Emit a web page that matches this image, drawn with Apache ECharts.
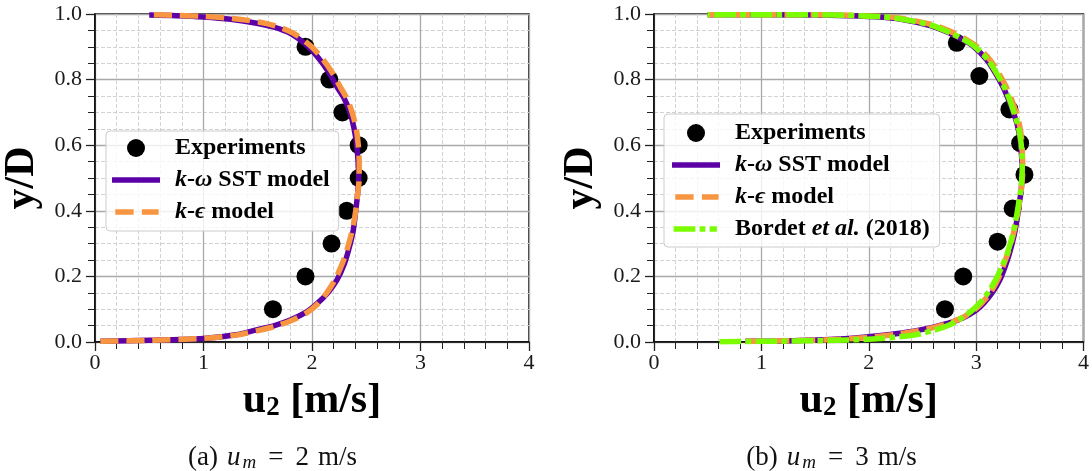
<!DOCTYPE html>
<html><head><meta charset="utf-8">
<script src="https://cdn.jsdelivr.net/npm/echarts@6/dist/echarts.min.js"></script>
<style>html,body{margin:0;padding:0;background:#fff}#c{width:1092px;height:471px}</style>
</head><body><div id="c"></div>
<script>
// ---------- data ----------
const xTickValues = [0, 1, 2, 3, 4];
const yTickLabels = ['0.0', '0.2', '0.4', '0.6', '0.8', '1.0'];
const seriesNames = ['Experiments', 'k-ω SST model', 'k-ϵ model', 'Bordet et al. (2018)'];
const captions = ['(a)', '(b)'];
const captionSpeeds = ['2', '3'];

// panel (a): u_m = 2 m/s
const expA = [[1.64,0.1],[1.94,0.2],[2.18,0.3],[2.32,0.4],[2.43,0.5],[2.43,0.6],[2.28,0.7],[2.16,0.8],[1.94,0.9]];
const sstA = [[0.05,0.002],[0.5,0.005],[1.0,0.011],[1.3,0.022],[1.49,0.037],[1.66,0.051],[1.80,0.067],[1.95,0.092],[2.05,0.118],[2.15,0.152],[2.23,0.189],[2.30,0.24],[2.345,0.29],[2.38,0.34],[2.40,0.392],[2.42,0.45],[2.43,0.50],[2.425,0.55],[2.41,0.606],[2.385,0.655],[2.35,0.70],[2.30,0.74],[2.23,0.778],[2.15,0.825],[2.05,0.87],[1.95,0.905],[1.80,0.941],[1.65,0.96],[1.49,0.972],[1.25,0.984],[1.0,0.991],[0.75,0.995],[0.5,0.997]];
const keA = [[0.05,0.002],[0.5,0.005],[1.0,0.011],[1.3,0.021],[1.49,0.034],[1.66,0.048],[1.80,0.064],[1.95,0.089],[2.05,0.115],[2.14,0.152],[2.21,0.189],[2.28,0.24],[2.33,0.29],[2.37,0.34],[2.40,0.392],[2.42,0.45],[2.435,0.50],[2.435,0.55],[2.425,0.606],[2.405,0.655],[2.37,0.70],[2.325,0.74],[2.26,0.778],[2.18,0.825],[2.08,0.87],[1.98,0.905],[1.83,0.941],[1.68,0.962],[1.52,0.975],[1.27,0.986],[1.0,0.993],[0.75,0.996],[0.5,0.998]];

// panel (b): u_m = 3 m/s
const expB = [[2.71,0.10],[2.88,0.20],[3.20,0.306],[3.34,0.407],[3.45,0.51],[3.41,0.606],[3.31,0.709],[3.03,0.811],[2.82,0.912]];
const sstB = [[0.85,0.002],[1.3,0.004],[1.72,0.009],[2.02,0.017],[2.27,0.026],[2.48,0.037],[2.58,0.044],[2.75,0.058],[2.88,0.074],[3.0,0.097],[3.07,0.118],[3.15,0.15],[3.22,0.189],[3.27,0.23],[3.31,0.27],[3.35,0.32],[3.38,0.372],[3.40,0.42],[3.42,0.463],[3.43,0.53],[3.42,0.58],[3.41,0.616],[3.385,0.66],[3.35,0.697],[3.30,0.74],[3.25,0.778],[3.18,0.82],[3.10,0.86],[2.98,0.90],[2.88,0.921],[2.73,0.945],[2.58,0.964],[2.3,0.984],[2.1,0.991],[1.8,0.995],[1.5,0.997],[0.5,0.998]];
const keB = [[0.85,0.002],[1.3,0.004],[1.72,0.008],[2.02,0.015],[2.27,0.024],[2.48,0.035],[2.6,0.044],[2.75,0.058],[2.87,0.074],[2.98,0.097],[3.05,0.118],[3.13,0.15],[3.2,0.189],[3.25,0.23],[3.295,0.27],[3.34,0.32],[3.375,0.372],[3.40,0.42],[3.42,0.463],[3.435,0.53],[3.43,0.58],[3.425,0.616],[3.405,0.66],[3.375,0.697],[3.33,0.74],[3.28,0.778],[3.21,0.82],[3.13,0.86],[3.01,0.90],[2.91,0.922],[2.76,0.947],[2.6,0.967],[2.3,0.987],[2.1,0.993],[1.8,0.996],[1.5,0.998],[0.5,0.998]];
const bordetB = [[0.61,0.001],[1.0,0.002],[1.41,0.0035],[1.8,0.006],[2.11,0.011],[2.42,0.021],[2.61,0.036],[2.75,0.052],[2.85,0.07],[2.95,0.093],[3.03,0.118],[3.11,0.15],[3.18,0.189],[3.24,0.23],[3.29,0.27],[3.335,0.32],[3.37,0.372],[3.395,0.42],[3.415,0.463],[3.43,0.53],[3.425,0.58],[3.415,0.616],[3.39,0.66],[3.355,0.697],[3.31,0.74],[3.26,0.778],[3.19,0.82],[3.11,0.86],[2.99,0.90],[2.89,0.921],[2.74,0.945],[2.59,0.965],[2.3,0.985],[2.1,0.992],[1.8,0.996],[1.5,0.998],[0.5,0.998]];

// ---------- style ----------
const SERIF = '"Liberation Serif","DejaVu Serif",serif';
const C_EXP = '#000000', C_SST = '#5c01a6', C_KE = '#f89540', C_BOR = '#7cfc00';
const LW = 5.5;
const DASH_KE = [18, 8];
const DASH_BOR = [21.7, 4.3, 5.7, 4.3];

const chart = echarts.init(document.getElementById('c'), null, {renderer: 'canvas'});

const grids = [
  {left: 95, top: 14, width: 434, height: 328},
  {left: 654, top: 14, width: 434, height: 328}
];

function xAxisFor(i) {
  return {
    gridIndex: i, type: 'value', min: xTickValues[0], max: xTickValues[xTickValues.length - 1], interval: 1,
    axisLine: {show: true, onZero: false, lineStyle: {color: '#000', width: 1.5}},
    axisTick: {show: true, inside: false, length: 9, lineStyle: {color: '#222', width: 1.3}},
    minorTick: {show: true, splitNumber: 5, length: 7, lineStyle: {color: '#222', width: 1}},
    splitLine: {show: true, lineStyle: {color: '#a9a9a9', width: 1.3}},
    minorSplitLine: {show: true, lineStyle: {color: '#d2d2d2', width: 1, type: [4, 2]}},
    axisLabel: {fontFamily: SERIF, fontSize: 22, color: '#1a1a1a', margin: 10},
    name: '{b|u}{s|2}{b| [m/s]}', nameLocation: 'middle', nameGap: 38,
    nameTextStyle: {rich: {
      b: {fontFamily: SERIF, fontWeight: 'bold', fontSize: 42, lineHeight: 42, color: '#000'},
      s: {fontFamily: SERIF, fontWeight: 'bold', fontSize: 27, lineHeight: 24, verticalAlign: 'bottom', color: '#000'}
    }}
  };
}
function yAxisFor(i) {
  return {
    gridIndex: i, type: 'value', min: 0, max: 1, interval: 0.2,
    axisLine: {show: true, onZero: false, lineStyle: {color: '#000', width: 1.5}},
    axisTick: {show: true, inside: false, length: 9, lineStyle: {color: '#222', width: 1.3}},
    minorTick: {show: true, splitNumber: 4, length: 7, lineStyle: {color: '#222', width: 1}},
    splitLine: {show: true, lineStyle: {color: '#a9a9a9', width: 1.3}},
    minorSplitLine: {show: true, lineStyle: {color: '#d2d2d2', width: 1, type: [4, 2]}},
    axisLabel: {fontFamily: SERIF, fontSize: 22, color: '#1a1a1a', margin: 13,
      formatter: v => yTickLabels[Math.round(v / 0.2)]},
    name: 'y/D', nameLocation: 'middle', nameGap: 52,
    nameTextStyle: {fontFamily: SERIF, fontWeight: 'bold', fontSize: 42, lineHeight: 42, color: '#000'}
  };
}

function lineSeries(name, data, idx, color, type) {
  return {
    name, type: 'line', data, xAxisIndex: idx, yAxisIndex: idx,
    symbol: 'none', smooth: 0.3, clip: true,
    lineStyle: {color, width: LW, type, cap: 'butt', join: 'round'},
    itemStyle: {color}, emphasis: {disabled: true}
  };
}
function scatterSeries(data, idx) {
  return {
    name: seriesNames[0], type: 'scatter', data, xAxisIndex: idx, yAxisIndex: idx,
    symbol: 'circle', symbolSize: 18, itemStyle: {color: C_EXP, opacity: 1}, emphasis: {disabled: true}
  };
}

const richLegend = {
  g: {width: 10},
  b: {fontFamily: SERIF, fontWeight: 'bold', fontSize: 24, lineHeight: 22, color: '#000'},
  bi: {fontFamily: SERIF, fontWeight: 'bold', fontStyle: 'italic', fontSize: 24, lineHeight: 22, color: '#000'}
};
const legendText = {};
legendText[seriesNames[0]] = '{g|}{b|Experiments}';
legendText[seriesNames[1]] = '{g|}{bi|k}{b|-}{bi|ω}{b| SST model}';
legendText[seriesNames[2]] = '{g|}{bi|k}{b|-}{bi|ϵ}{b| model}';
legendText[seriesNames[3]] = '{g|}{b|Bordet }{bi|et al.}{b| (2018)}';

const ICON_SOLID = 'path://M0,0h48v5.5h-48z';
const ICON_DASH = 'path://M0,0M3.3,0h18.3v5.5h-18.3zM29.9,0h16.7v5.5h-16.7zM48,5.5';
const ICON_DASHDOT = 'path://M0,0M1.6,0h21.7v5.5h-21.7zM27.6,0h5.7v5.5h-5.7zM37.6,0h7.3v5.5h-7.3zM48,5.5';

function legendData(n) {
  const items = [
    {name: seriesNames[0], icon: 'circle', itemStyle: {color: C_EXP, borderWidth: 0}},
    {name: seriesNames[1], icon: ICON_SOLID, itemStyle: {color: C_SST, borderWidth: 0}},
    {name: seriesNames[2], icon: ICON_DASH, itemStyle: {color: C_KE, borderWidth: 0}},
    {name: seriesNames[3], icon: ICON_DASHDOT, itemStyle: {color: C_BOR, borderWidth: 0}}
  ];
  return items.slice(0, n);
}
function legendFor(n, left, top, padding) {
  return {
    data: legendData(n), orient: 'vertical', left, top, padding,
    itemWidth: 48, itemHeight: 18, itemGap: 8, selectedMode: false,
    backgroundColor: 'rgba(255,255,255,0.8)', borderColor: '#cccccc', borderWidth: 1, borderRadius: 4,
    formatter: name => legendText[name],
    textStyle: {rich: richLegend}, z: 10
  };
}

const richCaption = {
  r: {fontFamily: SERIF, fontSize: 27, lineHeight: 28, fill: '#111'},
  i: {fontFamily: SERIF, fontSize: 27, fontStyle: 'italic', lineHeight: 28, fill: '#111'},
  sub: {fontFamily: SERIF, fontSize: 19, fontStyle: 'italic', lineHeight: 16, verticalAlign: 'bottom', fill: '#111'},
  s1: {width: 9}, s2: {width: 2}, s3: {width: 12}, s4: {width: 12}, s5: {width: 9}
};
function caption(cx, tag, speed) {
  return {
    type: 'text', x: cx, y: 458, z: 5,
    style: {
      text: '{r|' + tag + '}{s1|}{i|u}{s2|}{sub|m}{s3|}{r|=}{s4|}{r|' + speed + '}{s5|}{r|m/s}',
      align: 'center', verticalAlign: 'middle', rich: richCaption
    }
  };
}

const option = {
  animation: false,
  backgroundColor: '#ffffff',
  grid: grids.map(g => Object.assign({show: true, borderColor: '#000', borderWidth: 1.5, containLabel: false}, g)),
  xAxis: [xAxisFor(0), xAxisFor(1)],
  yAxis: [yAxisFor(0), yAxisFor(1)],
  legend: [
    legendFor(3, 106, 131, [5, 9, 7, 6]),
    legendFor(4, 664, 114, [7, 10, 6, 8])
  ],
  series: [
    scatterSeries(expA, 0),
    lineSeries(seriesNames[1], sstA, 0, C_SST, 'solid'),
    lineSeries(seriesNames[2], keA, 0, C_KE, DASH_KE),
    scatterSeries(expB, 1),
    lineSeries(seriesNames[1], sstB, 1, C_SST, 'solid'),
    lineSeries(seriesNames[2], keB, 1, C_KE, DASH_KE),
    lineSeries(seriesNames[3], bordetB, 1, C_BOR, DASH_BOR)
  ],
  graphic: [
    caption(272.5, captions[0], captionSpeeds[0]),
    caption(831.5, captions[1], captionSpeeds[1])
  ]
};
chart.setOption(option);
</script>
</body></html>
